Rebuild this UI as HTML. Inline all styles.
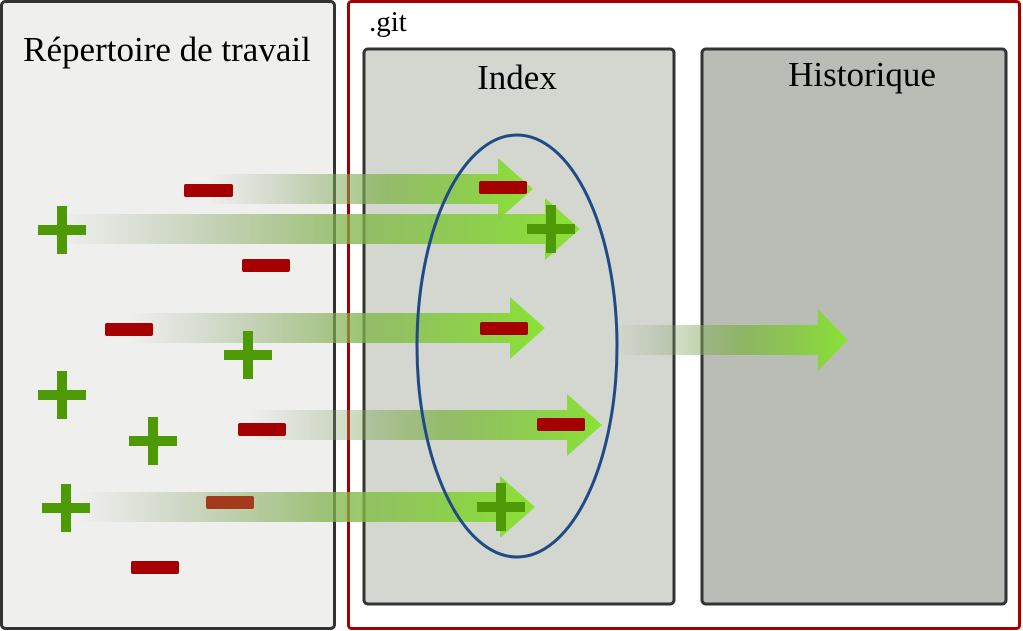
<!DOCTYPE html>
<html><head><meta charset="utf-8"><style>
html,body{margin:0;padding:0;background:#fff;width:1023px;height:631px;overflow:hidden}
svg{display:block}
text{font-family:"Liberation Serif",serif;fill:#000}
</style></head><body>
<svg width="1023" height="631" viewBox="0 0 1023 631">
<defs>
<linearGradient id="g" x1="0" y1="0" x2="1" y2="0">
<stop offset="0" stop-color="#8a9a80" stop-opacity="0"/>
<stop offset="0.55" stop-color="#7fb24a" stop-opacity="0.75"/>
<stop offset="1" stop-color="#8ae234" stop-opacity="1"/>
</linearGradient>
</defs>
<rect x="1.5" y="1.5" width="333" height="627" rx="4" fill="#efefed" stroke="#333" stroke-width="3"/>
<text x="167" y="61" font-size="35" text-anchor="middle">Répertoire de travail</text>
<rect x="348.5" y="1.5" width="671" height="627" rx="3" fill="#fff" stroke="#a40000" stroke-width="3"/>
<text x="369" y="31" font-size="29">.git</text>
<rect x="364" y="49" width="310" height="555" rx="4" fill="#d3d7cf" stroke="#333" stroke-width="3"/>
<text x="517" y="89" font-size="35" text-anchor="middle">Index</text>
<rect x="702" y="49" width="304" height="555" rx="4" fill="#babdb6" stroke="#333" stroke-width="3"/>
<text x="862" y="86" font-size="35" text-anchor="middle">Historique</text>

<g>
<path fill="url(#g)" d="M210 174 H498 V158 L533 189 L498 220 V204 H210 Z"/>
<path fill="url(#g)" d="M60 214 H545 V198 L580 229 L545 260 V244 H60 Z"/>
<path fill="url(#g)" d="M130 313 H510 V297 L545 328 L510 359 V343 H130 Z"/>
<path fill="url(#g)" d="M250 410 H567 V394 L602 425 L567 456 V440 H250 Z"/>
<path fill="url(#g)" d="M80 492 H500 V476 L535 507 L500 538 V522 H80 Z"/>
<path fill="url(#g)" d="M614 325 H818 V309 L848 340 L818 371 V355 H614 Z"/>
</g>

<ellipse cx="517" cy="346" rx="100" ry="211" fill="none" stroke="#204a87" stroke-width="3"/>

<g fill="#a40000">
<rect x="184" y="184" width="49" height="13" rx="2"/>
<rect x="242" y="259" width="48" height="13" rx="2"/>
<rect x="105" y="323" width="48" height="13" rx="2"/>
<rect x="238" y="423" width="48" height="13" rx="2"/>
<rect x="206" y="496" width="48" height="13" rx="2" fill="#a43a1c"/>
<rect x="131" y="561" width="48" height="13" rx="2"/>
<rect x="479" y="181" width="48" height="13" rx="2"/>
<rect x="480" y="322" width="48" height="13" rx="2"/>
<rect x="537" y="418" width="48" height="13" rx="2"/>
</g>

<g fill="#4e9a06">
<path d="M38 225 H57 V206 H67 V225 H86 V235 H67 V254 H57 V235 H38 Z"/>
<path d="M224 350 H243 V331 H253 V350 H272 V360 H253 V379 H243 V360 H224 Z"/>
<path d="M38 390 H57 V371 H67 V390 H86 V400 H67 V419 H57 V400 H38 Z"/>
<path d="M129 436 H148 V417 H158 V436 H177 V446 H158 V465 H148 V446 H129 Z"/>
<path d="M42 503 H61 V484 H71 V503 H90 V513 H71 V532 H61 V513 H42 Z"/>
<path d="M527 224 H546 V205 H556 V224 H575 V234 H556 V253 H546 V234 H527 Z"/>
<path d="M477 502 H496 V483 H506 V502 H525 V512 H506 V531 H496 V512 H477 Z"/>
</g>
</svg>
</body></html>
